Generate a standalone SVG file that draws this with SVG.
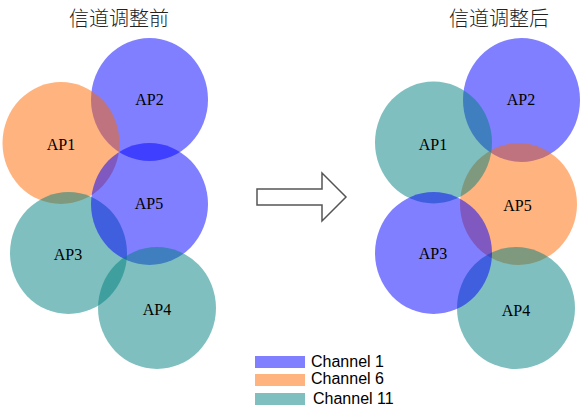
<svg xmlns="http://www.w3.org/2000/svg" width="584" height="414" viewBox="0 0 584 414">
<style>
.c1{fill:#0000ff;fill-opacity:0.5}
.c6{fill:#ff6700;fill-opacity:0.5}
.c11{fill:#008080;fill-opacity:0.5}
.lbl{font-family:"Liberation Serif","Times New Roman",serif;font-size:16px;fill:#000;text-anchor:middle}
.title{font-family:"Noto Sans CJK SC","Noto Sans CJK JP",sans-serif;font-size:20px;fill:#222;text-anchor:middle;font-weight:300}
.leg{font-family:"Liberation Sans",Arial,sans-serif;font-size:16px;fill:#000}
</style>
<rect width="584" height="414" fill="#fff"/>
<text class="title" x="119" y="26">信道调整前</text>
<text class="title" x="499" y="26">信道调整后</text>
<g id="before">
<g id="L-AP2"><ellipse class="c1" cx="149.5" cy="99.5" rx="58.5" ry="61.5"/><text class="lbl" x="149.5" y="105">AP2</text></g>
<g id="L-AP1"><ellipse class="c6" cx="61" cy="143" rx="58.5" ry="61"/><text class="lbl" x="61" y="150">AP1</text></g>
<g id="L-AP3"><ellipse class="c11" cx="68.5" cy="253" rx="58.5" ry="61"/><text class="lbl" x="68" y="260">AP3</text></g>
<g id="L-AP5"><ellipse class="c1" cx="149.5" cy="204" rx="58.5" ry="61"/><text class="lbl" x="149" y="209">AP5</text></g>
<g id="L-AP4"><ellipse class="c11" cx="157" cy="308" rx="59" ry="61"/><text class="lbl" x="157" y="315">AP4</text></g>
</g>
<g id="after">
<g id="R-AP2"><ellipse class="c1" cx="521.5" cy="100" rx="58.5" ry="62"/><text class="lbl" x="521" y="105">AP2</text></g>
<g id="R-AP5"><ellipse class="c6" cx="518.5" cy="204" rx="58.5" ry="61"/><text class="lbl" x="517.5" y="210.5">AP5</text></g>
<g id="R-AP1"><ellipse class="c11" cx="433.5" cy="142.5" rx="58.5" ry="61"/><text class="lbl" x="433" y="150">AP1</text></g>
<g id="R-AP4"><ellipse class="c11" cx="516" cy="308" rx="59" ry="61"/><text class="lbl" x="516" y="315.5">AP4</text></g>
<g id="R-AP3"><ellipse class="c1" cx="433.5" cy="253" rx="58.5" ry="61"/><text class="lbl" x="433" y="259">AP3</text></g>
</g>
<g id="connectors">
<polygon points="257,189 322,189 322,173 346,197 322,221 322,205 257,205" fill="#fff" stroke="#555" stroke-width="1.5" stroke-linejoin="miter"/>
</g>
<g id="legend">
<rect class="c1" x="255" y="356" width="50" height="12"/>
<text class="leg" x="311" y="366.5">Channel 1</text>
<rect class="c6" x="255" y="374" width="50" height="12"/>
<text class="leg" x="311" y="383.5">Channel 6</text>
<rect class="c11" x="255" y="393" width="50" height="12"/>
<text class="leg" x="313" y="404">Channel 11</text>
</g>
</svg>
